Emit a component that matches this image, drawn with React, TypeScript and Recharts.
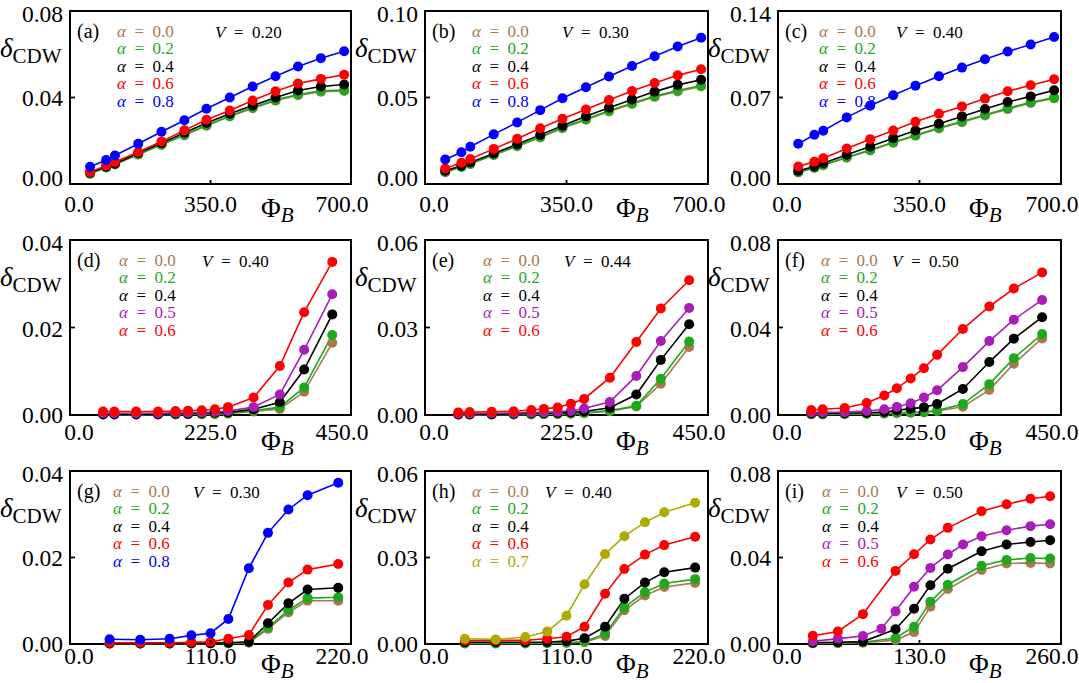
import React from 'react';
import { LineChart, Line, XAxis, YAxis, ReferenceArea, Legend } from 'recharts';

const FONT = '"Liberation Serif","Times New Roman",serif';

const BROWN = '#a67a4c';
const GREEN = '#1caa1c';
const BLACK = '#000000';
const RED = '#ff0000';
const BLUE = '#0000ff';
const PURPLE = '#a81cb8';
const OLIVE = '#b0a900';

// ---- x grids (Phi_B) ----
const phiRow1 = [50, 90, 112, 170, 228, 285, 340, 398, 455, 512, 568, 625, 683];
const phiRow2 = [53, 71, 106, 141, 169, 189, 211, 232, 253, 294, 336, 375, 420];
const phiRow3 = [31, 55, 78, 95, 110, 124, 140, 155, 171, 186, 210];
const phiI = [32, 55, 78, 108, 125, 140, 156, 187, 210, 232, 250];
const phiIPurple = [32, 55, 78, 95, 108, 125, 140, 156, 170, 187, 210, 232, 250];

// ---- alpha labels ----
const alphasA = ['0.0', '0.2', '0.4', '0.6', '0.8'];
const alphasD = ['0.0', '0.2', '0.4', '0.5', '0.6'];
const alphasH = ['0.0', '0.2', '0.4', '0.6', '0.7'];

// ---- panel (a) V=0.20 ----
const a00 = [0.0047, 0.0076, 0.0090, 0.0136, 0.0181, 0.0225, 0.0269, 0.0312, 0.0350, 0.0385, 0.0410, 0.0427, 0.0430];
const a02 = [0.0048, 0.0077, 0.0091, 0.0138, 0.0183, 0.0228, 0.0272, 0.0315, 0.0354, 0.0389, 0.0414, 0.0431, 0.0434];
const a04 = [0.0052, 0.0080, 0.0094, 0.0143, 0.0189, 0.0237, 0.0282, 0.0325, 0.0363, 0.0400, 0.0432, 0.0451, 0.0460];
const a06 = [0.0055, 0.0085, 0.0102, 0.0148, 0.0197, 0.0248, 0.0297, 0.0340, 0.0386, 0.0429, 0.0465, 0.0486, 0.0505];
const a08 = [0.0080, 0.0111, 0.0132, 0.0186, 0.0242, 0.0295, 0.0348, 0.0400, 0.0451, 0.0498, 0.0543, 0.0582, 0.0614];

// ---- panel (b) V=0.30 ----
const b00 = [0.0068, 0.0098, 0.0115, 0.0167, 0.0218, 0.0269, 0.0322, 0.0371, 0.0419, 0.0463, 0.0503, 0.0535, 0.0564];
const b02 = [0.0069, 0.0100, 0.0117, 0.0169, 0.0220, 0.0272, 0.0326, 0.0375, 0.0423, 0.0467, 0.0508, 0.0540, 0.0569];
const b04 = [0.0077, 0.0105, 0.0125, 0.0176, 0.0230, 0.0284, 0.0337, 0.0391, 0.0441, 0.0489, 0.0534, 0.0573, 0.0603];
const b06 = [0.0090, 0.0123, 0.0144, 0.0203, 0.0261, 0.0322, 0.0377, 0.0431, 0.0485, 0.0538, 0.0584, 0.0628, 0.0663];
const b08 = [0.0142, 0.0184, 0.0215, 0.0287, 0.0356, 0.0427, 0.0496, 0.0559, 0.0621, 0.0682, 0.0738, 0.0795, 0.0845];

// ---- panel (c) V=0.40 ----
const c00 = [0.0093, 0.0130, 0.0151, 0.0213, 0.0272, 0.0333, 0.0390, 0.0450, 0.0500, 0.0555, 0.0606, 0.0655, 0.0693];
const c02 = [0.0095, 0.0133, 0.0154, 0.0217, 0.0276, 0.0338, 0.0395, 0.0455, 0.0506, 0.0561, 0.0612, 0.0661, 0.0699];
const c04 = [0.0108, 0.0141, 0.0168, 0.0236, 0.0303, 0.0371, 0.0433, 0.0487, 0.0547, 0.0607, 0.0663, 0.0709, 0.0758];
const c06 = [0.0141, 0.0181, 0.0209, 0.0287, 0.0363, 0.0433, 0.0504, 0.0569, 0.0628, 0.0691, 0.0750, 0.0799, 0.0848];
const c08 = [0.0325, 0.0398, 0.0431, 0.0539, 0.0634, 0.0718, 0.0796, 0.0872, 0.0942, 0.1010, 0.1072, 0.1129, 0.1189];

// ---- panel (d) V=0.40 ----
const d00 = [0.0001, 0.0001, 0.0001, 0.0001, 0.0001, 0.0002, 0.0002, 0.0002, 0.0003, 0.0008, 0.0014, 0.0053, 0.0165];
const d02 = [0.0001, 0.0001, 0.0001, 0.0001, 0.0002, 0.0002, 0.0002, 0.0003, 0.0004, 0.0010, 0.0018, 0.0063, 0.0183];
const d04 = [0.0002, 0.0002, 0.0002, 0.0002, 0.0003, 0.0003, 0.0004, 0.0005, 0.0006, 0.0013, 0.0029, 0.0104, 0.0230];
const d05 = [0.0004, 0.0004, 0.0004, 0.0004, 0.0005, 0.0005, 0.0006, 0.0007, 0.0009, 0.0018, 0.0047, 0.0149, 0.0276];
const d06 = [0.0008, 0.0008, 0.0008, 0.0008, 0.0009, 0.0010, 0.0011, 0.0013, 0.0018, 0.0040, 0.0112, 0.0235, 0.0350];

// ---- panel (e) V=0.44 ----
const e00 = [0.0001, 0.0001, 0.0002, 0.0002, 0.0002, 0.0003, 0.0003, 0.0004, 0.0006, 0.0013, 0.0029, 0.0107, 0.0233];
const e02 = [0.0002, 0.0002, 0.0002, 0.0002, 0.0003, 0.0003, 0.0004, 0.0005, 0.0007, 0.0015, 0.0032, 0.0124, 0.0252];
const e04 = [0.0003, 0.0003, 0.0003, 0.0004, 0.0005, 0.0006, 0.0007, 0.0009, 0.0012, 0.0025, 0.0070, 0.0189, 0.0311];
const e05 = [0.0005, 0.0005, 0.0006, 0.0007, 0.0008, 0.0009, 0.0011, 0.0014, 0.0022, 0.0045, 0.0134, 0.0254, 0.0367];
const e06 = [0.0009, 0.0010, 0.0011, 0.0013, 0.0017, 0.0021, 0.0026, 0.0039, 0.0055, 0.0128, 0.0250, 0.0365, 0.0462];

// ---- panel (f) V=0.50 ----
const f00 = [0.0003, 0.0003, 0.0004, 0.0005, 0.0006, 0.0008, 0.0010, 0.0012, 0.0018, 0.0038, 0.0115, 0.0234, 0.0350];
const f02 = [0.0004, 0.0004, 0.0005, 0.0006, 0.0008, 0.0010, 0.0012, 0.0014, 0.0020, 0.0050, 0.0141, 0.0260, 0.0370];
const f04 = [0.0007, 0.0007, 0.0008, 0.0010, 0.0014, 0.0021, 0.0029, 0.0035, 0.0050, 0.0119, 0.0242, 0.0349, 0.0447];
const f05 = [0.0012, 0.0012, 0.0013, 0.0018, 0.0026, 0.0037, 0.0054, 0.0080, 0.0113, 0.0219, 0.0338, 0.0436, 0.0526];
const f06 = [0.0023, 0.0026, 0.0032, 0.0055, 0.0089, 0.0122, 0.0167, 0.0214, 0.0275, 0.0393, 0.0496, 0.0578, 0.0652];

// ---- panel (g) V=0.30 ----
const g00 = [0.0001, 0.0001, 0.0001, 0.0001, 0.0001, 0.0002, 0.0003, 0.0035, 0.0073, 0.0100, 0.0100];
const g02 = [0.0001, 0.0001, 0.0001, 0.0001, 0.0002, 0.0002, 0.0004, 0.0038, 0.0078, 0.0106, 0.0108];
const g04 = [0.0001, 0.0001, 0.0001, 0.0002, 0.0002, 0.0003, 0.0005, 0.0048, 0.0094, 0.0126, 0.0130];
const g06 = [0.0003, 0.0003, 0.0003, 0.0004, 0.0005, 0.0012, 0.0021, 0.0090, 0.0142, 0.0172, 0.0185];
const g08 = [0.0011, 0.0010, 0.0012, 0.0020, 0.0025, 0.0058, 0.0175, 0.0257, 0.0311, 0.0344, 0.0373];

// ---- panel (h) V=0.40 ----
const h00 = [0.0002, 0.0002, 0.0002, 0.0003, 0.0004, 0.0006, 0.0028, 0.0117, 0.0168, 0.0198, 0.0212];
const h02 = [0.0003, 0.0003, 0.0003, 0.0004, 0.0005, 0.0008, 0.0035, 0.0127, 0.0180, 0.0210, 0.0225];
const h04 = [0.0006, 0.0006, 0.0006, 0.0007, 0.0010, 0.0020, 0.0060, 0.0157, 0.0213, 0.0249, 0.0265];
const h06 = [0.0012, 0.0012, 0.0013, 0.0018, 0.0025, 0.0060, 0.0174, 0.0260, 0.0310, 0.0343, 0.0372];
const h07 = [0.0018, 0.0016, 0.0024, 0.0043, 0.0098, 0.0207, 0.0312, 0.0374, 0.0422, 0.0457, 0.0490];

// ---- panel (i) V=0.50 ----
const i00 = [0.0003, 0.0004, 0.0006, 0.0018, 0.0055, 0.0172, 0.0254, 0.0342, 0.0372, 0.0375, 0.0372];
const i02 = [0.0005, 0.0006, 0.0008, 0.0028, 0.0080, 0.0195, 0.0274, 0.0362, 0.0389, 0.0398, 0.0395];
const i04 = [0.0006, 0.0008, 0.0011, 0.0068, 0.0163, 0.0272, 0.0348, 0.0429, 0.0460, 0.0472, 0.0480];
const i05 = [0.0012, 0.0025, 0.0037, 0.0071, 0.0151, 0.0265, 0.0352, 0.0414, 0.0460, 0.0498, 0.0526, 0.0545, 0.0554];
const i06 = [0.0038, 0.0058, 0.0138, 0.0338, 0.0415, 0.0483, 0.0537, 0.0614, 0.0646, 0.0672, 0.0683];

type Series = { alpha: string; color: string; x: number[]; y: number[] };
type PanelCfg = {
  tag: string; V: string; left: number; top: number; w: number; row: number;
  xMax: number; yMax: number; series: Series[]; legDx: number; vDx: number;
};

const mk = (alphas: string[], colors: string[], xs: number[][], ys: number[][]): Series[] =>
  alphas.map((a, k) => ({ alpha: a, color: colors[k], x: xs[k], y: ys[k] }));

const colsA = [BROWN, GREEN, BLACK, RED, BLUE];
const colsD = [BROWN, GREEN, BLACK, PURPLE, RED];
const colsH = [BROWN, GREEN, BLACK, RED, OLIVE];
const r1 = [phiRow1, phiRow1, phiRow1, phiRow1, phiRow1];
const r2 = [phiRow2, phiRow2, phiRow2, phiRow2, phiRow2];
const r3 = [phiRow3, phiRow3, phiRow3, phiRow3, phiRow3];

const PH = [173, 175, 173];
const XLAB_BASE = [28, 25, 20];
const PHI_BASE = [33, 35, 29];
const YDY = [[-6, 0, 2.5], [0, 1, 2.5], [0, 0, 2.5]];

const panels: PanelCfg[] = [
  { tag: '(a)', V: '0.20', left: 70, top: 11, w: 281, row: 0, xMax: 700, yMax: 0.08, legDx: 47, vDx: 145, series: mk(alphasA, colsA, r1, [a00, a02, a04, a06, a08]) },
  { tag: '(b)', V: '0.30', left: 425, top: 11, w: 283, row: 0, xMax: 700, yMax: 0.10, legDx: 47, vDx: 137, series: mk(alphasA, colsA, r1, [b00, b02, b04, b06, b08]) },
  { tag: '(c)', V: '0.40', left: 778, top: 11, w: 283, row: 0, xMax: 700, yMax: 0.14, legDx: 41, vDx: 118, series: mk(alphasA, colsA, r1, [c00, c02, c04, c06, c08]) },
  { tag: '(d)', V: '0.40', left: 70, top: 240, w: 281, row: 1, xMax: 450, yMax: 0.04, legDx: 49, vDx: 132, series: mk(alphasD, colsD, r2, [d00, d02, d04, d05, d06]) },
  { tag: '(e)', V: '0.44', left: 425, top: 240, w: 283, row: 1, xMax: 450, yMax: 0.06, legDx: 58, vDx: 139, series: mk(alphasD, colsD, r2, [e00, e02, e04, e05, e06]) },
  { tag: '(f)', V: '0.50', left: 778, top: 240, w: 283, row: 1, xMax: 450, yMax: 0.08, legDx: 43, vDx: 114, series: mk(alphasD, colsD, r2, [f00, f02, f04, f05, f06]) },
  { tag: '(g)', V: '0.30', left: 70, top: 471, w: 281, row: 2, xMax: 220, yMax: 0.04, legDx: 43, vDx: 123, series: mk(alphasA, colsA, r3, [g00, g02, g04, g06, g08]) },
  { tag: '(h)', V: '0.40', left: 425, top: 471, w: 283, row: 2, xMax: 220, yMax: 0.06, legDx: 47, vDx: 120, series: mk(alphasH, colsH, r3, [h00, h02, h04, h06, h07]) },
  { tag: '(i)', V: '0.50', left: 778, top: 471, w: 283, row: 2, xMax: 260, yMax: 0.08, legDx: 44, vDx: 118, series: mk(alphasD, colsD, [phiI, phiI, phiI, phiIPurple, phiI], [i00, i02, i04, i05, i06]) },
];

function buildRows(series: Series[]) {
  const xs = Array.from(new Set(series.flatMap((s) => s.x))).sort((a, b) => a - b);
  return xs.map((x) => {
    const row: any = { x };
    series.forEach((s, k) => {
      const i = s.x.indexOf(x);
      if (i >= 0) row['s' + k] = s.y[i];
    });
    return row;
  });
}

const PL = 70;
const PT = 11;
const RM = 28;

function Panel({ cfg }: { cfg: PanelCfg }) {
  const ph = PH[cfg.row];
  const pb = PT + ph;
  const W = PL + cfg.w + RM;
  const H = pb + 40;
  const rows = buildRows(cfg.series);
  const xt = [0, cfg.xMax / 2, cfg.xMax];
  const yt = [0, cfg.yMax / 2, cfg.yMax];
  const ydy = YDY[cfg.row];

  const XTick = (p: any) => {
    const idx = xt.findIndex((v) => Math.abs(v - p.payload.value) < 1e-9);
    const dx = idx === 0 ? 9 : idx === 2 ? -9 : 0;
    return (
      <g>
        <line x1={p.x} x2={p.x} y1={pb} y2={pb - 4} stroke="#000" strokeWidth={1.8} />
        <text x={p.x + dx} y={pb + XLAB_BASE[cfg.row]} textAnchor="middle" fontFamily={FONT} fontSize={23.5} fill="#000">
          {Number(p.payload.value).toFixed(1)}
        </text>
      </g>
    );
  };
  const YTick = (p: any) => {
    const idx = yt.findIndex((v) => Math.abs(v - p.payload.value) < 1e-9);
    const dy = idx >= 0 ? ydy[idx] : 0;
    return (
      <g>
        <line x1={PL} x2={PL + 5} y1={p.y} y2={p.y} stroke="#000" strokeWidth={1.8} />
        <text x={PL - 7} y={p.y + 8 + dy} textAnchor="end" fontFamily={FONT} fontSize={23.5} fill="#000">
          {Number(p.payload.value).toFixed(2)}
        </text>
      </g>
    );
  };

  const renderLegend = (props: any) => {
    const payload = props.payload || [];
    return (
      <div style={{ fontFamily: FONT, fontSize: 17, lineHeight: '17.5px', whiteSpace: 'nowrap' }}>
        {payload.map((e: any, k: number) => (
          <div key={k} style={{ color: e.color }}>
            <i>α</i>{'\u2002=\u2002'}{String(e.value).replace('α = ', '')}
          </div>
        ))}
      </div>
    );
  };

  return (
    <div style={{ position: 'absolute', left: cfg.left - PL, top: cfg.top - PT, width: W, height: H }}>
      <LineChart width={W} height={H} margin={{ top: PT, right: RM, bottom: 0, left: 8 }} data={rows}>
        <XAxis dataKey="x" type="number" domain={[0, cfg.xMax]} ticks={xt} height={40} axisLine={false} tickLine={false} tick={XTick} interval={0} />
        <YAxis type="number" domain={[0, cfg.yMax]} ticks={yt} width={62} axisLine={false} tickLine={false} tick={YTick} interval={0} />
        <ReferenceArea x1={0} x2={cfg.xMax} y1={0} y2={cfg.yMax} fill="none" fillOpacity={0} stroke="#000" strokeWidth={2} strokeOpacity={1} />
        {cfg.series.map((s, k) => (
          <Line
            key={k}
            type="linear"
            dataKey={'s' + k}
            name={'α = ' + s.alpha}
            stroke={s.color}
            strokeWidth={1.6}
            dot={{ r: 5, fill: s.color, stroke: s.color, strokeWidth: 0 }}
            activeDot={false}
            connectNulls
            isAnimationActive={false}
          />
        ))}
        <Legend
          layout="vertical"
          align="center"
          verticalAlign="middle"
          content={renderLegend}
          wrapperStyle={{ position: 'absolute', left: PL + cfg.legDx, top: PT + 20.5 - 8.75, width: 'auto', height: 'auto' }}
        />
      </LineChart>
      <svg width={W} height={H + 20} style={{ position: 'absolute', left: 0, top: 0, pointerEvents: 'none', overflow: 'visible' }}>
        <text x={0} y={57} fontFamily={FONT} fontSize={27} fill="#000">
          <tspan fontStyle="italic">δ</tspan>
          <tspan fontSize={21} dy={6}>CDW</tspan>
        </text>
        <text x={PL + 191} y={pb + PHI_BASE[cfg.row]} fontFamily={FONT} fontSize={27} fill="#000">
          Φ<tspan fontStyle="italic" fontSize={21} dy={5}>B</tspan>
        </text>
        <text x={PL + 7} y={PT + 27} fontFamily={FONT} fontSize={20} fill="#000">{cfg.tag}</text>
        <text x={PL + cfg.vDx} y={PT + 26.5} fontFamily={FONT} fontSize={17} fill="#000">
          <tspan fontStyle="italic">V</tspan>{'\u2002=\u2002' + cfg.V}
        </text>
      </svg>
    </div>
  );
}

export default function App() {
  return (
    <div style={{ position: 'absolute', left: 0, top: 0, width: 1079, height: 683, background: '#fff', overflow: 'hidden' }}>
      {panels.map((p) => (
        <Panel key={p.tag} cfg={p} />
      ))}
    </div>
  );
}
